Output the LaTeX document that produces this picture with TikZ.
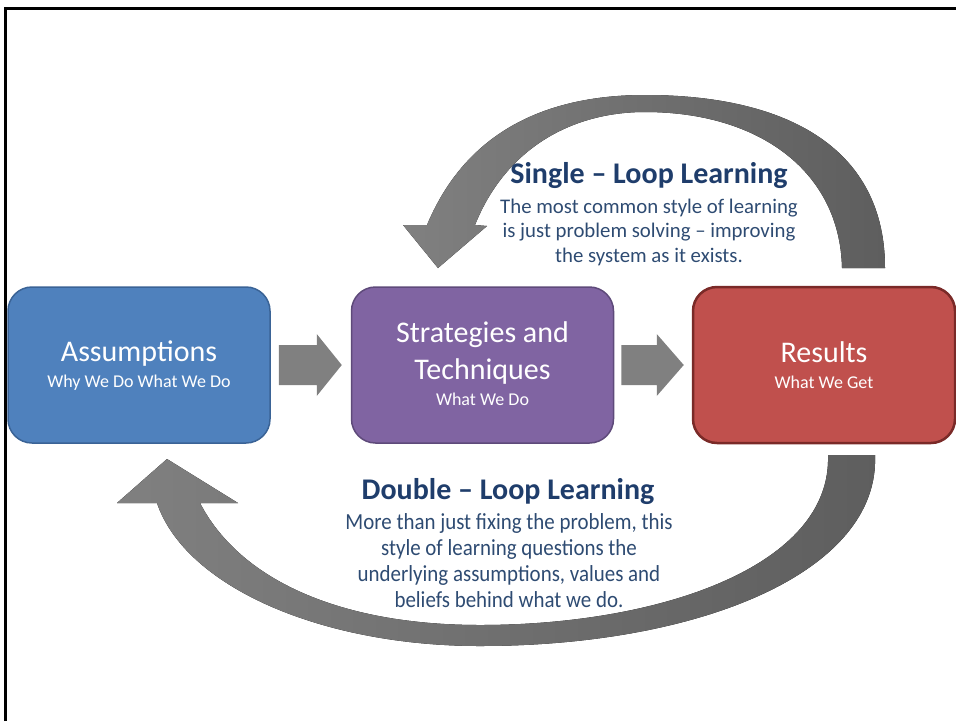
\documentclass[tikz,border=0pt]{standalone}
\usepackage{fontspec}
\setmainfont{Carlito}
\usetikzlibrary{calc}

\definecolor{assumblue}{HTML}{4F81BD}
\definecolor{assumedge}{HTML}{3A6396}
\definecolor{stratpurple}{HTML}{8064A2}
\definecolor{stratedge}{HTML}{5E4A7A}
\definecolor{resred}{HTML}{C0504D}
\definecolor{resedge}{HTML}{7A2A28}
\definecolor{flowgray}{HTML}{808080}
\definecolor{loopdark}{HTML}{5E5E5E}
\definecolor{looplight}{HTML}{A8A8A8}
\definecolor{headnavy}{HTML}{1F3D6B}
\definecolor{bodynavy}{HTML}{2E4B72}

\begin{document}
\begin{tikzpicture}[x=1pt, y=-1pt,
  stage/.style={rounded corners=24pt, minimum width=262pt, minimum height=156pt,
    line width=1.5pt, inner sep=0pt},
  stagetitle/.style={text=white, font=\fontsize{30}{36}\selectfont, align=center},
  stagesub/.style={text=white, font=\fontsize{18}{22}\selectfont},
  looptitle/.style={text=headnavy, font=\bfseries\fontsize{30}{34}\selectfont},
  looptext/.style={text=bodynavy, align=center}]
  \useasboundingbox (0,0) rectangle (956,721);

  % frame
  \draw[line width=3.5pt] (5.5,721) -- (5.5,8.5) -- (956,8.5);

  % stages
  \node[stage, fill=assumblue, draw=assumedge] (assum) at (139,365) {};
  \node[stage, fill=stratpurple, draw=stratedge] (strat) at (482.5,365) {};
  \node[stage, fill=resred, draw=resedge, line width=2.5pt] (res) at (824,365) {};

  \node[stagetitle] (assumT) at (139,354) {Assumptions};
  \node[stagesub] (assumS) at (139,383) {Why We Do What We Do};
  \node[stagetitle] (stratT) at (482.5,353) {Strategies and\\[1pt]Techniques};
  \node[stagesub] (stratS) at (482.5,399) {What We Do};
  \node[stagetitle] (resT) at (824,352) {Results};
  \node[stagesub] (resS) at (824,382) {What We Get};

  % block arrows
  \fill[flowgray] ($(assum.east)+(8,-20)$) -- ($(strat.west)+(-34,-20)$)
    -- ($(strat.west)+(-34,-31)$) -- ($(strat.west)+(-9,0)$)
    -- ($(strat.west)+(-34,31)$) -- ($(strat.west)+(-34,20)$)
    -- ($(assum.east)+(8,20)$) -- cycle;
  \fill[flowgray] ($(strat.east)+(7,-20)$) -- ($(res.west)+(-35,-20)$)
    -- ($(res.west)+(-35,-31)$) -- ($(res.west)+(-8,0)$)
    -- ($(res.west)+(-35,31)$) -- ($(res.west)+(-35,20)$)
    -- ($(strat.east)+(7,20)$) -- cycle;

  % single loop
  \fill[left color=flowgray, middle color=looplight, right color=loopdark]
    (842,268) .. controls (840,172) and (760,112) .. (645,112)
    .. controls (570,112) and (505,150) .. (475,225)
    -- (487,226) -- (438,268) -- (403,225) -- (427,225)
    .. controls (470,122) and (560,95) .. (645,95)
    .. controls (790,95) and (885,150) .. (885,268) -- cycle;

  % double loop
  \fill[left color=flowgray, middle color=looplight, right color=loopdark]
    (875,455) .. controls (880,572) and (700,646) .. (480,646)
    .. controls (320,646) and (185,586) .. (157,503)
    -- (117,503) -- (167,459) -- (238,503) -- (200,503)
    .. controls (240,580) and (340,625) .. (480,625)
    .. controls (660,625) and (832,566) .. (828,455) -- cycle;

  % loop texts
  \node[looptitle] (slT) at (649,176) {Single -- Loop Learning};
  \node[looptext, font=\fontsize{20.8}{24.5}\selectfont] (slB) at (649,232)
    {The most common style of learning\\is just problem solving -- improving\\the system as it exists.};
  \node[looptitle] (dlT) at (508,492) {Double -- Loop Learning};
  \node[looptext, font=\fontsize{23}{26}\selectfont, xscale=0.91] (dlB) at (509,561)
    {More than just fixing the problem, this\\style of learning questions the\\underlying assumptions, values and\\beliefs behind what we do.};
\end{tikzpicture}
\end{document}
